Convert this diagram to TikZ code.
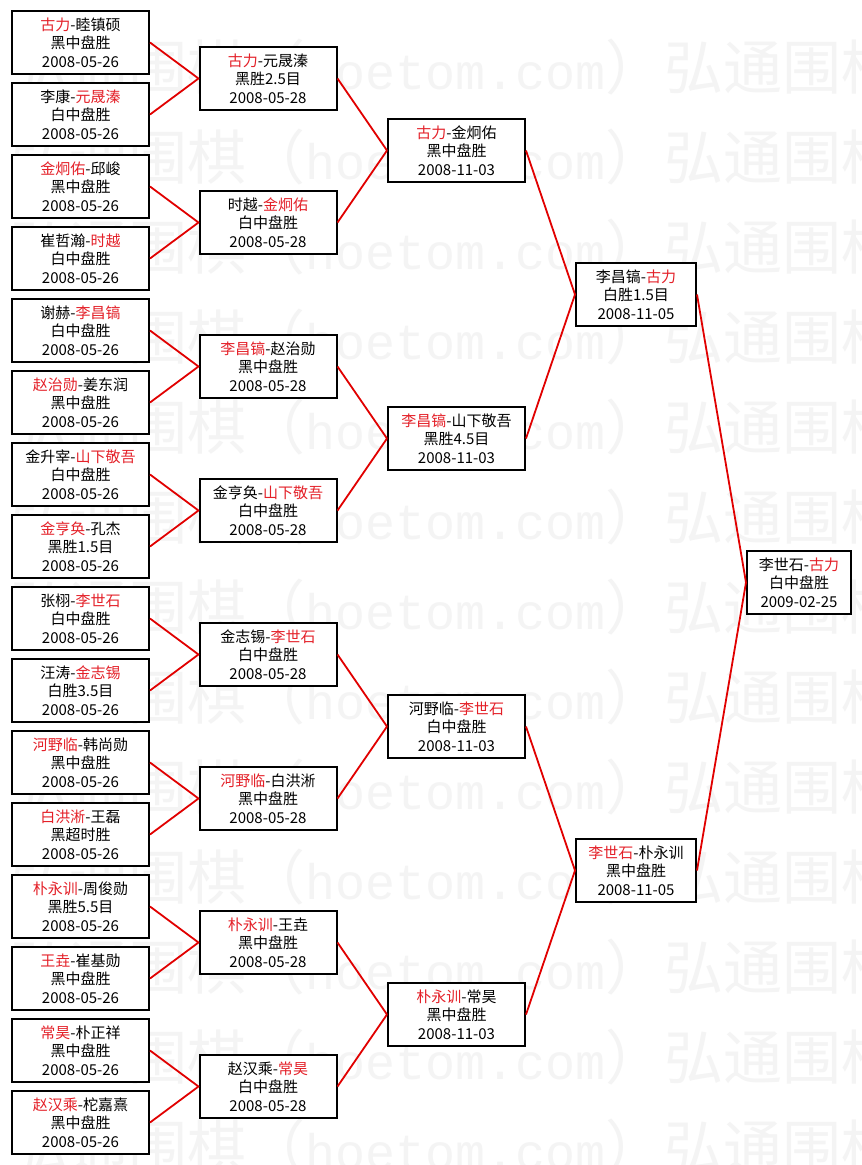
\documentclass[tikz,border=0pt]{standalone}
\usepackage{fontspec}
\setmainfont{Noto Sans CJK SC}
\newfontfamily\marklatin{Liberation Mono}
\usepackage{tikz}
\definecolor{winred}{RGB}{228,32,40}
\definecolor{linkred}{RGB}{225,0,0}
\definecolor{markgray}{RGB}{244,244,244}
\newcommand{\win}[1]{\textcolor{winred}{#1}}
\newcommand{\markrow}{弘通围棋（{\marklatin\fontsize{50}{50}\selectfont hoetom.com}）弘通围棋（{\marklatin\fontsize{50}{50}\selectfont hoetom.com}）}

\begin{document}
\begin{tikzpicture}[x=1pt, y=-1pt,
        game/.style={draw, line width=2pt, fill=white, minimum width=137pt, minimum height=63pt,
            inner sep=1pt, align=center, font={\fontsize{15}{18.5}\selectfont}},
        link/.style={linkred, line width=1.8pt, line join=round},
        wmark/.style={markgray, anchor=west, inner sep=0pt, font={\fontsize{59}{59}\selectfont}}]
        \useasboundingbox (0,0) rectangle (862,1165);
        \fill[white] (0,0) rectangle (862,1165);

        % Watermark.
        \node[wmark] (w1) at (10,67) {\markrow};
        \node[wmark] (w2) at (10,157) {\markrow};
        \node[wmark] (w3) at (10,247) {\markrow};
        \node[wmark] (w4) at (10,337) {\markrow};
        \node[wmark] (w5) at (10,427) {\markrow};
        \node[wmark] (w6) at (10,517) {\markrow};
        \node[wmark] (w7) at (10,607) {\markrow};
        \node[wmark] (w8) at (10,697) {\markrow};
        \node[wmark] (w9) at (10,787) {\markrow};
        \node[wmark] (w10) at (10,877) {\markrow};
        \node[wmark] (w11) at (10,967) {\markrow};
        \node[wmark] (w12) at (10,1057) {\markrow};
        \node[wmark] (w13) at (10,1147) {\markrow};

        % First round.
        \node[game] (g1) at (80.5,42.5) {\win{古力}-睦镇硕\\黑中盘胜\\2008-05-26};
        \node[game] (g2) at (80.5,114.5) {李康-\win{元晟溱}\\白中盘胜\\2008-05-26};
        \node[game] (g3) at (80.5,186.5) {\win{金炯佑}-邱峻\\黑中盘胜\\2008-05-26};
        \node[game] (g4) at (80.5,258.5) {崔哲瀚-\win{时越}\\白中盘胜\\2008-05-26};
        \node[game] (g5) at (80.5,330.5) {谢赫-\win{李昌镐}\\白中盘胜\\2008-05-26};
        \node[game] (g6) at (80.5,402.5) {\win{赵治勋}-姜东润\\黑中盘胜\\2008-05-26};
        \node[game] (g7) at (80.5,474.5) {金升宰-\win{山下敬吾}\\白中盘胜\\2008-05-26};
        \node[game] (g8) at (80.5,546.5) {\win{金亨奂}-孔杰\\黑胜1.5目\\2008-05-26};
        \node[game] (g9) at (80.5,618.5) {张栩-\win{李世石}\\白中盘胜\\2008-05-26};
        \node[game] (g10) at (80.5,690.5) {汪涛-\win{金志锡}\\白胜3.5目\\2008-05-26};
        \node[game] (g11) at (80.5,762.5) {\win{河野临}-韩尚勋\\黑中盘胜\\2008-05-26};
        \node[game] (g12) at (80.5,834.5) {\win{白洪淅}-王磊\\黑超时胜\\2008-05-26};
        \node[game] (g13) at (80.5,906.5) {\win{朴永训}-周俊勋\\黑胜5.5目\\2008-05-26};
        \node[game] (g14) at (80.5,978.5) {\win{王垚}-崔基勋\\黑中盘胜\\2008-05-26};
        \node[game] (g15) at (80.5,1050.5) {\win{常昊}-朴正祥\\黑中盘胜\\2008-05-26};
        \node[game] (g16) at (80.5,1122.5) {\win{赵汉乘}-柁嘉熹\\黑中盘胜\\2008-05-26};

        % Second round.
        \node[game] (s1) at (268,78.5) {\win{古力}-元晟溱\\黑胜2.5目\\2008-05-28};
        \node[game] (s2) at (268,222.5) {时越-\win{金炯佑}\\白中盘胜\\2008-05-28};
        \node[game] (s3) at (268,366.5) {\win{李昌镐}-赵治勋\\黑中盘胜\\2008-05-28};
        \node[game] (s4) at (268,510.5) {金亨奂-\win{山下敬吾}\\白中盘胜\\2008-05-28};
        \node[game] (s5) at (268,654.5) {金志锡-\win{李世石}\\白中盘胜\\2008-05-28};
        \node[game] (s6) at (268,798.5) {\win{河野临}-白洪淅\\黑中盘胜\\2008-05-28};
        \node[game] (s7) at (268,942.5) {\win{朴永训}-王垚\\黑中盘胜\\2008-05-28};
        \node[game] (s8) at (268,1086.5) {赵汉乘-\win{常昊}\\白中盘胜\\2008-05-28};

        % Quarter finals.
        \node[game] (q1) at (456.5,150.5) {\win{古力}-金炯佑\\黑中盘胜\\2008-11-03};
        \node[game] (q2) at (456.5,438.5) {\win{李昌镐}-山下敬吾\\黑胜4.5目\\2008-11-03};
        \node[game] (q3) at (456.5,726.5) {河野临-\win{李世石}\\白中盘胜\\2008-11-03};
        \node[game] (q4) at (456.5,1014.5) {\win{朴永训}-常昊\\黑中盘胜\\2008-11-03};

        % Semi finals and final.
        \node[game, minimum width=120pt] (h1) at (636,294.5) {李昌镐-\win{古力}\\白胜1.5目\\2008-11-05};
        \node[game, minimum width=120pt] (h2) at (636,870.5) {\win{李世石}-朴永训\\黑中盘胜\\2008-11-05};
        \node[game, minimum width=104pt] (final) at (799,582.5) {李世石-\win{古力}\\白中盘胜\\2009-02-25};

        % Links.
        \draw[link] (g1.east) -- (s1.west) -- (g2.east);
        \draw[link] (g3.east) -- (s2.west) -- (g4.east);
        \draw[link] (g5.east) -- (s3.west) -- (g6.east);
        \draw[link] (g7.east) -- (s4.west) -- (g8.east);
        \draw[link] (g9.east) -- (s5.west) -- (g10.east);
        \draw[link] (g11.east) -- (s6.west) -- (g12.east);
        \draw[link] (g13.east) -- (s7.west) -- (g14.east);
        \draw[link] (g15.east) -- (s8.west) -- (g16.east);
        \draw[link] (s1.east) -- (q1.west) -- (s2.east);
        \draw[link] (s3.east) -- (q2.west) -- (s4.east);
        \draw[link] (s5.east) -- (q3.west) -- (s6.east);
        \draw[link] (s7.east) -- (q4.west) -- (s8.east);
        \draw[link] (q1.east) -- (h1.west) -- (q2.east);
        \draw[link] (q3.east) -- (h2.west) -- (q4.east);
        \draw[link] (h1.east) -- (final.west) -- (h2.east);
    \end{tikzpicture}
\end{document}
